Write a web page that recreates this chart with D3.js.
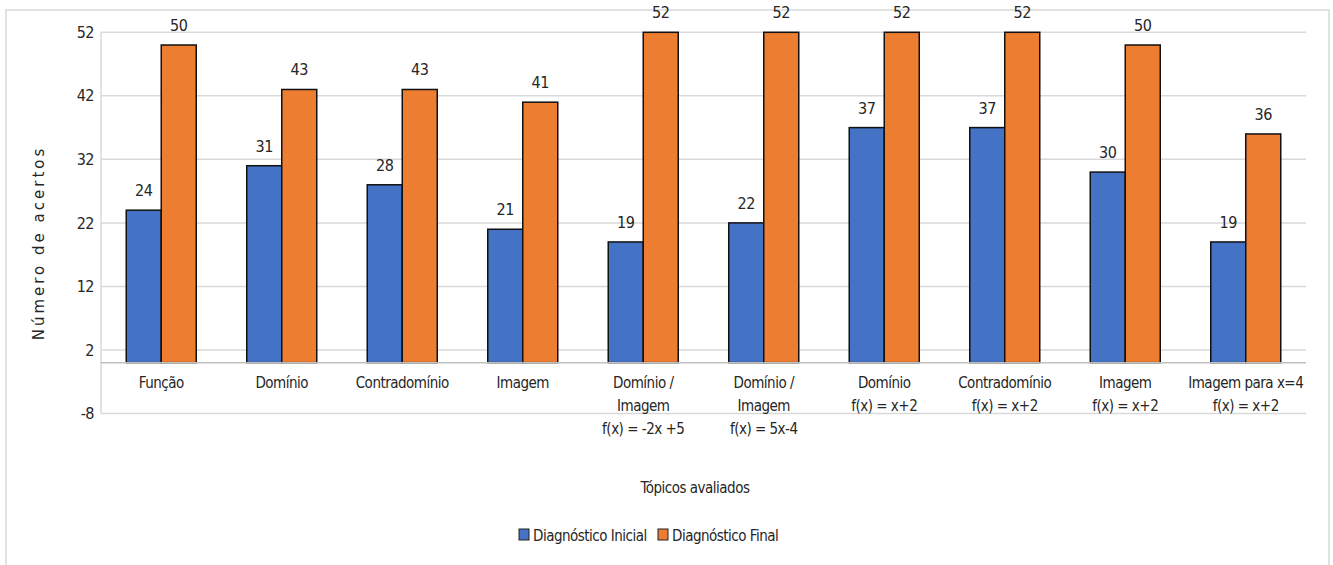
<!DOCTYPE html>
<html>
<head>
<meta charset="utf-8">
<script src="https://cdn.jsdelivr.net/npm/d3@7"></script>
<style>
  html, body { margin: 0; padding: 0; background: #fff; }
  svg { display: block; }
  text { font-family: "DejaVu Sans", sans-serif; font-stretch: condensed; fill: #262626; letter-spacing: -0.5px; }
</style>
</head>
<body>
<svg id="chart" width="1333" height="565"></svg>
<script>
// Topics evaluated and number of correct answers per diagnostic
const categories = [
  ["Função"],
  ["Domínio"],
  ["Contradomínio"],
  ["Imagem"],
  ["Domínio /", "Imagem", "f(x) = -2x +5"],
  ["Domínio /", "Imagem", "f(x) = 5x-4"],
  ["Domínio", "f(x) = x+2"],
  ["Contradomínio", "f(x) = x+2"],
  ["Imagem", "f(x) = x+2"],
  ["Imagem para x=4", "f(x) = x+2"]
];
const inicial = [24, 31, 28, 21, 19, 22, 37, 37, 30, 19];
const final = [50, 43, 43, 41, 52, 52, 52, 52, 50, 36];
const seriesNames = ["Diagnóstico Inicial", "Diagnóstico Final"];
const seriesColors = ["#4472C4", "#ED7D31"];
const yTicks = [-8, 2, 12, 22, 32, 42, 52];

const svg = d3.select("#chart");

// outer chart frame
svg.append("rect")
  .attr("x", 6).attr("y", 10).attr("width", 1323).attr("height", 600)
  .attr("fill", "none").attr("stroke", "#d9d9d9").attr("stroke-width", 1.5);

const plot = { left: 101, right: 1306, top: 32.3, bottom: 413.5 };

const y = d3.scaleLinear().domain([-8, 52]).range([plot.bottom, plot.top]);
const x0 = d3.scaleBand()
  .domain(d3.range(categories.length))
  .range([plot.left, plot.right])
  .paddingInner(0.419).paddingOuter(0.2095);
const x1 = d3.scaleBand().domain([0, 1]).range([0, x0.bandwidth()]);

// gridlines
svg.append("g")
  .selectAll("line").data(yTicks).join("line")
  .attr("x1", plot.left).attr("x2", plot.right)
  .attr("y1", d => y(d)).attr("y2", d => y(d))
  .attr("stroke", "#d9d9d9").attr("stroke-width", 1.5);

// y axis line
svg.append("line")
  .attr("x1", plot.left).attr("x2", plot.left)
  .attr("y1", plot.top).attr("y2", plot.bottom)
  .attr("stroke", "#d9d9d9").attr("stroke-width", 1.5);

// y tick labels
const yAxis = svg.append("g")
  .attr("transform", `translate(${plot.left},0)`)
  .call(d3.axisLeft(y).tickValues(yTicks).tickSize(0).tickPadding(7)
    .tickFormat(d => String(d)));
yAxis.select(".domain").remove();
yAxis.selectAll("text")
  .attr("font-size", 16)
  .style("font-family", '"DejaVu Sans", sans-serif')
  .attr("fill", "#262626");

// bars
const values = [inicial, final];
const groups = svg.append("g").selectAll("g")
  .data(categories.map((c, i) => i)).join("g")
  .attr("transform", i => `translate(${x0(i)},0)`);

groups.selectAll("rect")
  .data(i => values.map((v, s) => ({ s, v: v[i] })))
  .join("rect")
  .attr("x", d => x1(d.s))
  .attr("width", x1.bandwidth())
  .attr("y", d => y(d.v))
  .attr("height", d => y(0) - y(d.v))
  .attr("fill", d => seriesColors[d.s])
  .attr("stroke", "#111").attr("stroke-width", 1.5);

groups.selectAll("text.val")
  .data(i => values.map((v, s) => ({ s, v: v[i] })))
  .join("text").attr("class", "val")
  .attr("x", d => x1(d.s) + x1.bandwidth() / 2)
  .attr("y", d => y(d.v) - 14)
  .attr("text-anchor", "middle")
  .attr("font-size", 16)
  .text(d => d.v);

// zero baseline
svg.append("line")
  .attr("x1", plot.left).attr("x2", plot.right)
  .attr("y1", y(0)).attr("y2", y(0))
  .attr("stroke", "#bfbfbf").attr("stroke-width", 1.5);

// category labels
groups.selectAll("text.cat")
  .data(i => categories[i])
  .join("text").attr("class", "cat")
  .attr("x", x0.bandwidth() / 2)
  .attr("y", (d, k) => y(0) + 25 + k * 23)
  .attr("text-anchor", "middle")
  .attr("font-size", 15)
  .text(d => d);

// axis titles
svg.append("text")
  .attr("x", 695).attr("y", 493)
  .attr("text-anchor", "middle").attr("font-size", 15)
  .text("Tópicos avaliados");

svg.append("text")
  .attr("transform", "translate(44,243) rotate(-90)")
  .attr("text-anchor", "middle")
  .style("font-stretch", "normal")
  .style("letter-spacing", "3px")
  .attr("font-size", 15)
  .text("Número de acertos");

// legend
const legend = svg.append("g");
const legendX = [519, 658];
seriesNames.forEach((name, s) => {
  legend.append("rect")
    .attr("x", legendX[s]).attr("y", 529).attr("width", 10).attr("height", 11)
    .attr("fill", seriesColors[s]).attr("stroke", "#222").attr("stroke-width", 1);
  legend.append("text")
    .attr("x", legendX[s] + 14).attr("y", 541)
    .attr("font-size", 15)
    .text(name);
});
</script>
</body>
</html>
